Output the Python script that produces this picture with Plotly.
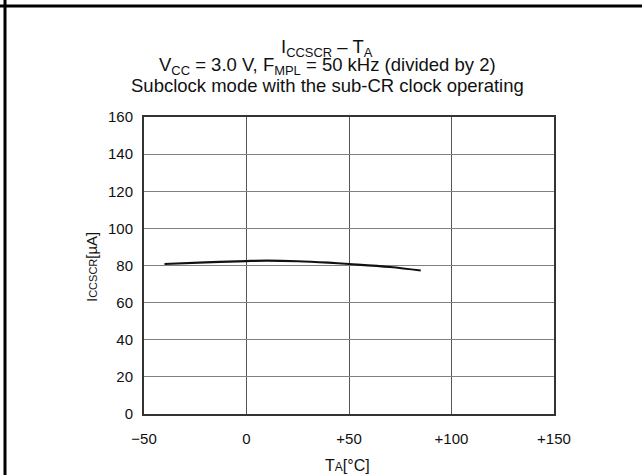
import plotly.graph_objects as go

temp_c = [-40, -20, 0, 10, 25, 40, 50, 70, 85]
icc_ua = [80.8, 81.7, 82.4, 82.6, 82.3, 81.5, 80.8, 79.2, 77.3]
x_ticks = [-50, 0, 50, 100, 150]
x_tick_text = ["\u221250", "0", "+50", "+100", "+150"]
y_ticks = [0, 20, 40, 60, 80, 100, 120, 140, 160]
title_lines = [
    "I<sub>CCSCR</sub> \u2013 T<sub>A</sub>",
    "V<sub>CC</sub> = 3.0 V, F<sub>MPL</sub> = 50 kHz (divided by 2)",
    "Subclock mode with the sub-CR clock operating",
]
x_title = "T<span style='font-size:12px'>A</span>[\u00b0C]"
y_title = "I<span style='font-size:11px'>CCSCR</span>[\u00b5A]"

FONT = "Liberation Sans, Arial, sans-serif"
W, H = 642, 475
ML, MR, MT, MB = 144, 88, 117, 61
PW, PH = W - ML - MR, H - MT - MB


def px_x(p):
    return (p - ML) / PW


def px_y(p):
    return (H - MB - p) / PH


fig = go.Figure()
fig.add_trace(go.Scatter(x=temp_c, y=icc_ua, mode="lines",
                         line=dict(color="#111", width=2.2, shape="spline"),
                         showlegend=False, hoverinfo="skip"))

annotations = []
for line, yc in zip(title_lines, [48, 66, 86]):
    annotations.append(dict(text=line, xref="paper", yref="paper", x=px_x(327), y=px_y(yc),
                            xanchor="center", yanchor="middle", showarrow=False,
                            font=dict(family=FONT, size=18.5, color="#111")))
annotations.append(dict(text=x_title, xref="paper", yref="paper", x=px_x(347), y=px_y(465),
                        xanchor="center", yanchor="middle", showarrow=False,
                        font=dict(family=FONT, size=16, color="#111")))
annotations.append(dict(text=y_title, xref="paper", yref="paper", x=px_x(91), y=px_y(267),
                        xanchor="center", yanchor="middle", showarrow=False, textangle=-90,
                        font=dict(family=FONT, size=15, color="#111")))

fig.update_layout(
    width=W, height=H,
    margin=dict(l=ML, r=MR, t=MT, b=MB),
    paper_bgcolor="white", plot_bgcolor="white",
    font=dict(family=FONT, size=15, color="#111"),
    xaxis=dict(range=[-50, 150], tickvals=x_ticks, ticktext=x_tick_text,
               showgrid=True, gridcolor="#555", gridwidth=1, zeroline=False,
               showline=True, linecolor="#333", linewidth=2, mirror=True,
               ticks="", ticklabelstandoff=10),
    yaxis=dict(range=[0, 160], tickvals=y_ticks,
               showgrid=True, gridcolor="#808080", gridwidth=1, zeroline=False,
               showline=True, linecolor="#333", linewidth=2, mirror=True,
               ticks="", ticklabelstandoff=6),
    annotations=annotations,
    shapes=[
        dict(type="line", xref="paper", yref="paper", x0=px_x(0), x1=px_x(W), y0=px_y(6), y1=px_y(6),
             line=dict(color="black", width=3)),
        dict(type="line", xref="paper", yref="paper", x0=px_x(5), x1=px_x(5), y0=px_y(0), y1=px_y(H),
             line=dict(color="black", width=3)),
    ],
)

fig.write_html("out.html", config={"displayModeBar": False},
               post_script="document.body.style.margin='0px';")
